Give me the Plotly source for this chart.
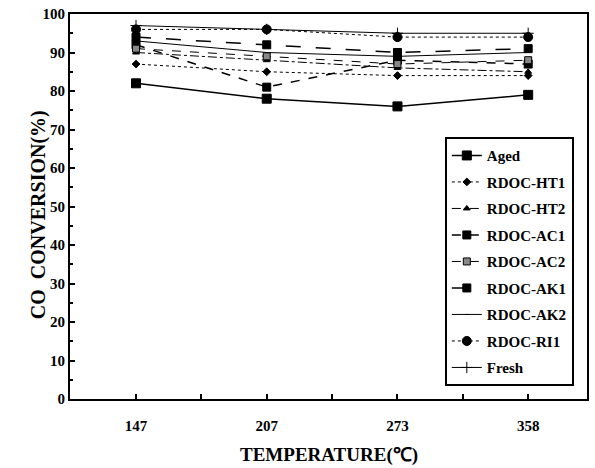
import plotly.graph_objects as go

temps = ["147", "207", "273", "358"]
aged = [82, 78, 76, 79]
ht1 = [87, 85, 84, 84]
ht2 = [90, 88, 86, 85]
ac1 = [92, 81, 88, 87]
ac2 = [91, 89, 87, 88]
ak1 = [94, 92, 90, 91]
ak2 = [93, 90, 89, 90]
ri1 = [96, 96, 94, 94]
fresh = [97, 96, 95, 95]

series = [
    ("Aged", aged, "solid", "square", 9, 1.5),
    ("RDOC-HT1", ht1, "dot", "diamond", 6, 1),
    ("RDOC-HT2", ht2, "dashdot", "triangle-up", 6, 1),
    ("RDOC-AC1", ac1, "dash", "square", 8, 1.5),
    ("RDOC-AC2", ac2, "dash", "square", 7, 1),
    ("RDOC-AK1", ak1, "longdash", "square", 8, 1.5),
    ("RDOC-AK2", ak2, "solid", "line-ew", 1, 1),
    ("RDOC-RI1", ri1, "dot", "circle", 9, 1),
    ("Fresh", fresh, "solid", "cross-thin", 8, 1),
]

xi = list(range(len(temps)))
fig = go.Figure()
for i, (name, vals, dash, sym, size, w) in enumerate(series):
    color = "#888" if name == "RDOC-AC2" else "black"
    fig.add_trace(go.Scatter(
        x=xi, y=vals, name=name, mode="lines+markers",
        line=dict(color="black", width=w, dash=dash),
        marker=dict(symbol=sym, size=size, color=color,
                    line=dict(color="black", width=1)),
        legendgroup=name,
    ))

font = "Liberation Serif"
fig.update_layout(
    width=595, height=468,
    margin=dict(l=70, r=8, t=6, b=69),
    plot_bgcolor="white", paper_bgcolor="white",
    font=dict(family=font, color="black"),
    showlegend=True,
    legend=dict(
        x=0.725, y=0.68, xanchor="left", yanchor="top",
        bordercolor="black", borderwidth=2, bgcolor="white",
        font=dict(family=font, size=15, color="black", weight="bold"),
        tracegroupgap=4, itemwidth=30,
    ),
    xaxis=dict(
        range=[-0.505, 3.45], tickmode="array", tickvals=xi, ticktext=temps,
        ticks="inside", ticklen=5, tickwidth=1.5, tickcolor="black",
        minor=dict(tickmode="array", tickvals=[0.5, 1.5, 2.5], ticks="inside", ticklen=5, tickwidth=1.5, tickcolor="black"),
        showline=True, linecolor="black", linewidth=2, mirror=True,
        showgrid=False, zeroline=False,
        ticklabelstandoff=12,
        tickfont=dict(family=font, size=15, weight="bold"),
    ),
    yaxis=dict(
        range=[0, 100], dtick=10,
        ticks="inside", ticklen=5, tickwidth=1.5, tickcolor="black",
        minor=dict(dtick=5, ticks="inside", ticklen=3, tickwidth=1.5, tickcolor="black"),
        showline=True, linecolor="black", linewidth=2, mirror=True,
        showgrid=False, zeroline=False,
        tickfont=dict(family=font, size=15, weight="bold"),
    ),
    annotations=[
        dict(text="TEMPERATURE(℃)", xref="paper", yref="paper", x=0.5, y=-0.145,
             xanchor="center", yanchor="middle", showarrow=False,
             font=dict(family=font, size=19, weight="bold")),
        dict(text="CO  CONVERSION(%)", xref="paper", yref="paper", x=-0.062, y=0.48,
             xanchor="center", yanchor="middle", textangle=-90, showarrow=False,
             font=dict(family=font, size=20, weight="bold")),
    ],
)
fig.write_html("out.html")
